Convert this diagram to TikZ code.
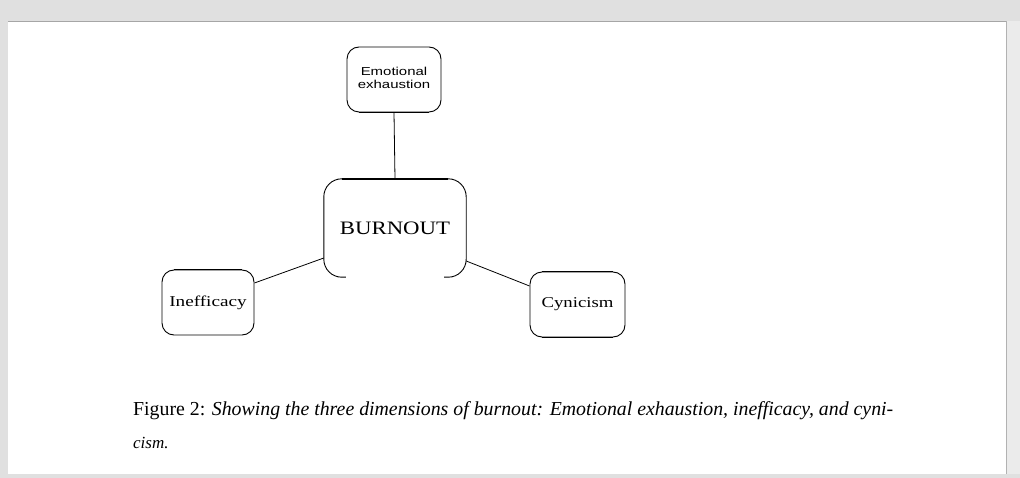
\documentclass[tikz,border=0pt]{standalone}
\usepackage{fontspec}
\setmainfont{Liberation Serif}
\newfontfamily\boxsans{Liberation Sans}
\begin{document}
\begin{tikzpicture}[x=1pt,y=-1pt,
  dimbox/.style={draw=black, line width=0.9pt, rounded corners=12pt, inner sep=0pt},
  heavy/.style={draw=black, line width=1.8pt},
  link/.style={draw=black, line width=0.8pt},
  chrome/.style={fill=black!12, draw=none}]
\useasboundingbox (0,0) rectangle (1020,478);
\fill[white] (0,0) rectangle (1020,478);
% window chrome
\fill[chrome] (0,0) rectangle (1020,21);
\draw[black!35, line width=0.8pt] (8,21.5) -- (1006,21.5);
\fill[chrome] (0,21) rectangle (8,478);
\fill[black!8] (1007,21) rectangle (1020,478);
\draw[black!30, line width=0.8pt] (1006.5,21) -- (1006.5,474);
\fill[chrome] (0,474) rectangle (1020,478);
% boxes
\node[dimbox, minimum width=94pt, minimum height=65pt] (emo) at (394,79.5)
  {\scalebox{1.3}[1]{\boxsans\fontsize{11.5}{12.5}\selectfont\begin{tabular}{@{}c@{}}Emotional\\exhaustion\end{tabular}}};
\node[minimum width=142pt, minimum height=98pt, inner sep=0pt] (burn) at (395,228)
  {\scalebox{1.2}[1]{\fontsize{19}{20}\selectfont BURNOUT}};
\draw[black, line width=0.9pt, rounded corners=18pt]
  ([xshift=22pt]burn.south west) -- (burn.south west) -- (burn.north west) -- (burn.north east) -- (burn.south east) -- ([xshift=-22pt]burn.south east);
\node[dimbox, minimum width=92pt, minimum height=65pt] (ineff) at (208,302.5)
  {\scalebox{1.28}[1]{\fontsize{15}{15}\selectfont Inefficacy}};
\node[dimbox, minimum width=95pt, minimum height=65pt] (cyn) at (577.5,304.5)
  {\scalebox{1.25}[1]{\fontsize{15}{15}\selectfont Cynicism}};
% heavier straight edges as in the reference
\draw[heavy] ([xshift=18pt]burn.north west) -- ([xshift=-18pt]burn.north east);
\draw[heavy] ([xshift=12pt]emo.south west) -- ([xshift=-12pt]emo.south east);
\draw[heavy] ([xshift=12pt]ineff.north west) -- ([xshift=-12pt]ineff.north east);
\draw[heavy] ([xshift=12pt]cyn.north west) -- ([xshift=-12pt]cyn.north east);
\draw[heavy] ([xshift=12pt]cyn.south west) -- ([xshift=-12pt]cyn.south east);
% connectors
\draw[link] (emo.south) -- (burn.north);
\draw[link] (ineff.east |- 0,283) -- (burn.west |- 0,258);
\draw[link] (cyn.west |- 0,286) -- (burn.east |- 0,261);
% caption
\node[anchor=base west, inner sep=0pt] (cap1) at (133,415)
  {\resizebox{760pt}{!}{\fontsize{17}{18}\selectfont Figure 2: \textit{Showing the three dimensions of burnout: Emotional exhaustion, inefficacy, and cyni-}}};
\node[anchor=base west, inner sep=0pt] (cap2) at (133,448)
  {\fontsize{17}{18}\selectfont\textit{cism.}};
\end{tikzpicture}
\end{document}
